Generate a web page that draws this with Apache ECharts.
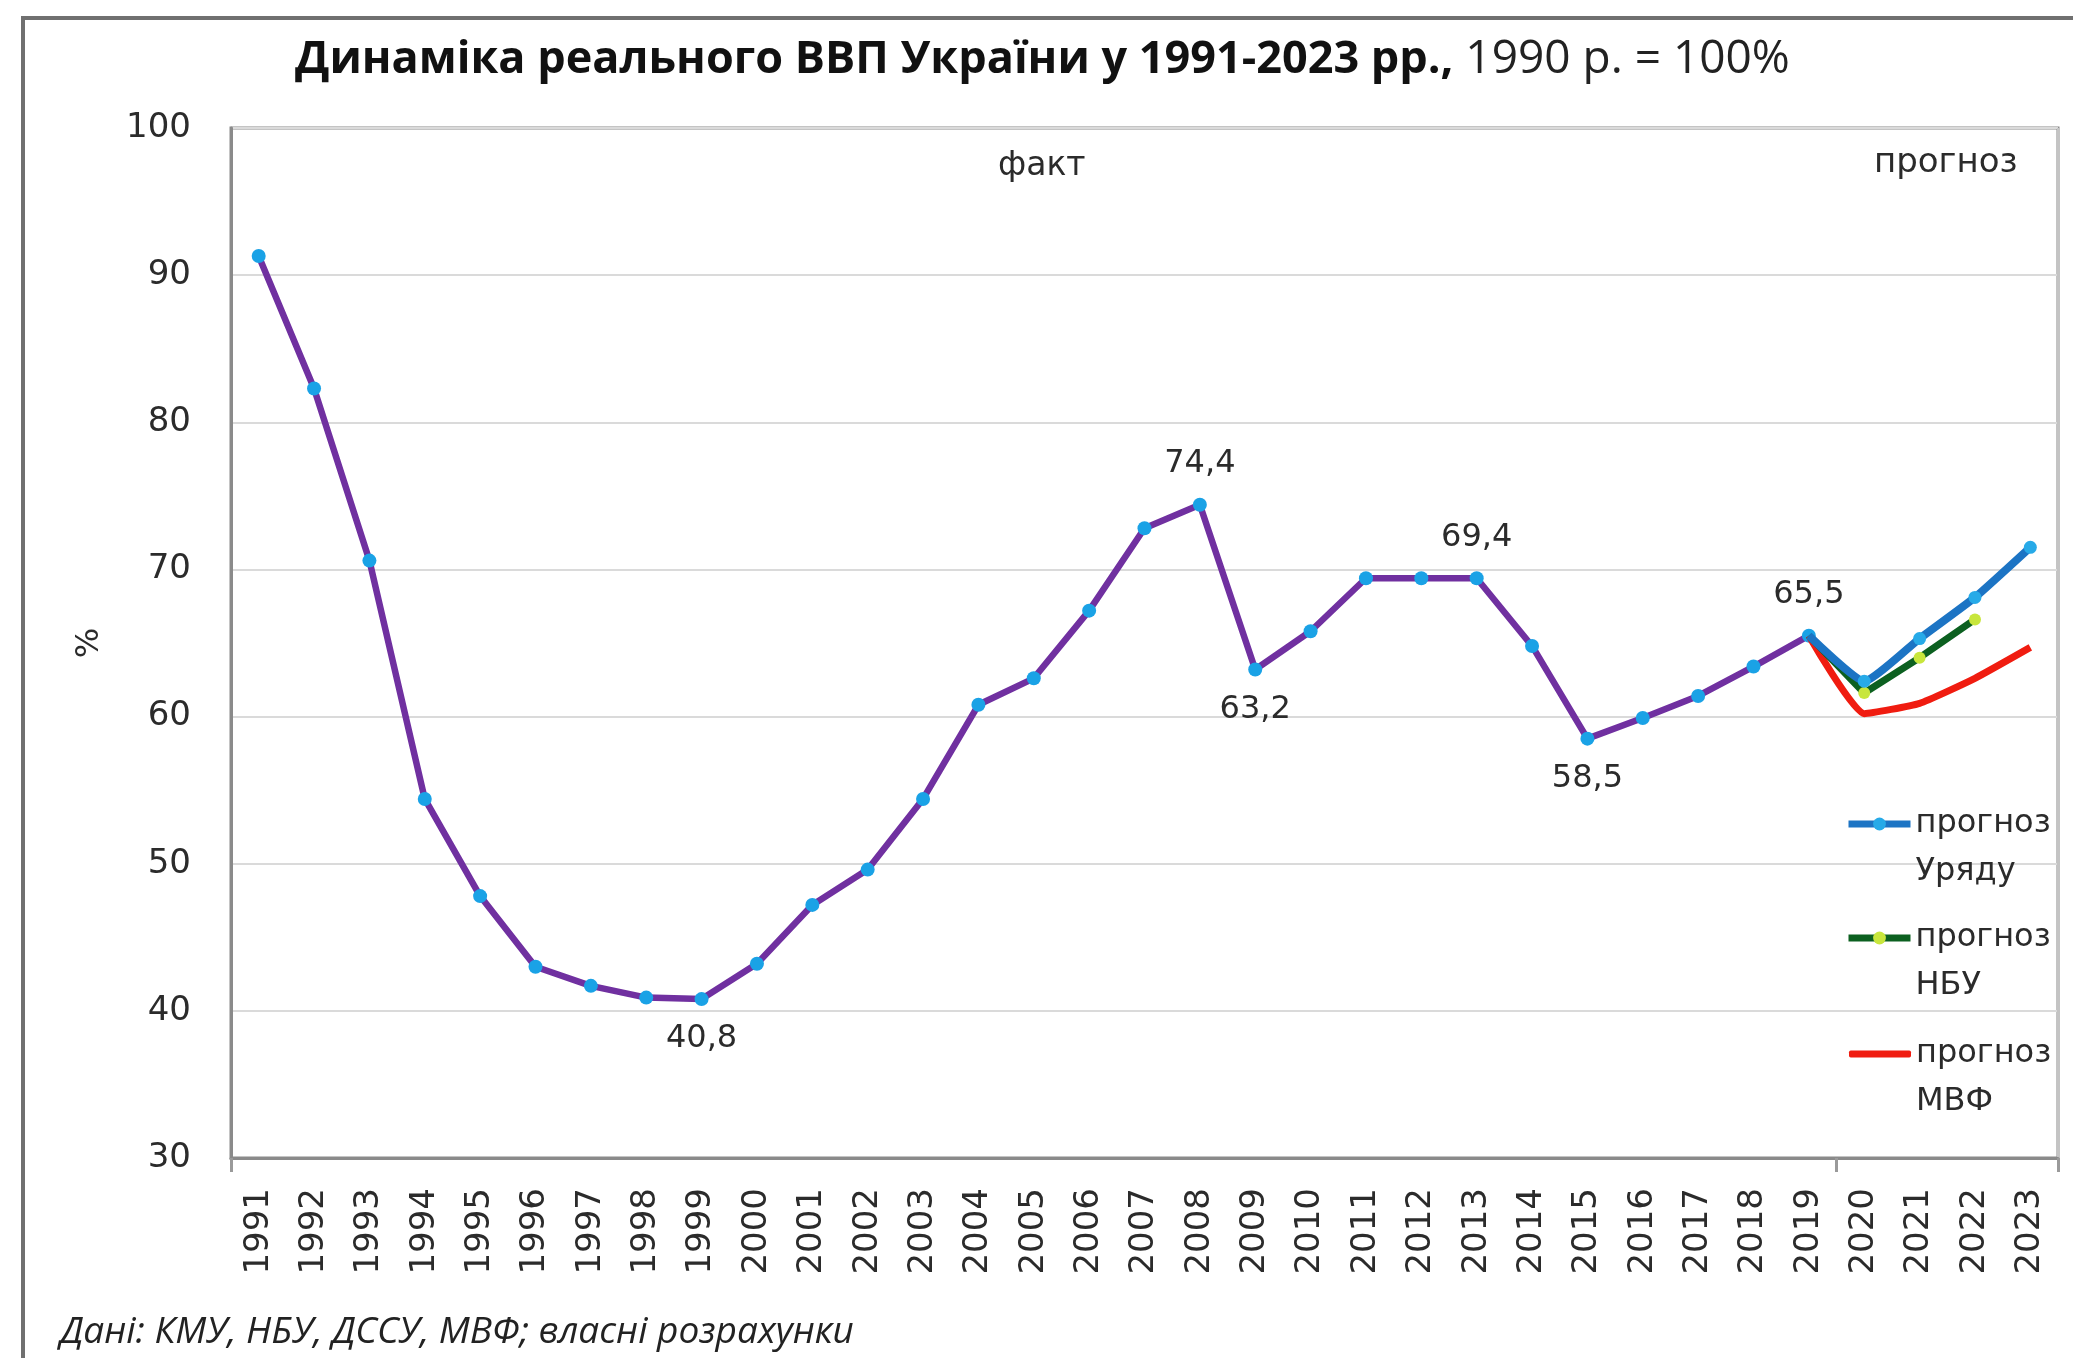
<!DOCTYPE html>
<html>
<head>
<meta charset="utf-8">
<script src="https://cdn.jsdelivr.net/npm/echarts@6/dist/echarts.min.js"></script>
<style>
  html, body { margin: 0; padding: 0; background: #fff; }
  #chart { width: 2073px; height: 1358px; }
</style>
</head>
<body>
<div id="chart"></div>
<script>
const years = ['1991', '1992', '1993', '1994', '1995', '1996', '1997', '1998', '1999', '2000',
  '2001', '2002', '2003', '2004', '2005', '2006', '2007', '2008', '2009', '2010',
  '2011', '2012', '2013', '2014', '2015', '2016', '2017', '2018', '2019', '2020',
  '2021', '2022', '2023']

// real GDP, 1990 = 100
const fact = [91.3, 82.3, 70.6, 54.4, 47.8, 43.0, 41.7, 40.9, 40.8, 43.2,
  47.2, 49.6, 54.4, 60.8, 62.6, 67.2, 72.8, 74.4, 63.2, 65.8,
  69.4, 69.4, 69.4, 64.8, 58.5, 59.9, 61.4, 63.4, 65.5, null,
  null, null, null]

const forecastYears = ['2019', '2020', '2021', '2022', '2023']
const govForecast = [65.5, 62.4, 65.3, 68.1, 71.5]
const nbuForecast = [65.5, 61.6, 64.0, 66.6, null]
const imfForecast = [65.5, 60.2, 60.9, 62.6, 64.7]

// which fact points carry a value label, and on which side
const labelledYears = { '1999': 'bottom', '2008': 'top', '2009': 'bottom', '2013': 'top', '2015': 'bottom', '2019': 'top' }

const yTicks = { min: 30, max: 100, step: 10 }

const TEXT = '#2b2b2b'
const FONT = 'DejaVu Sans'

const alignToYears = (values) => years.map(y => {
  const i = forecastYears.indexOf(y)
  return i < 0 ? null : values[i]
})

const fmt = v => String(v.toFixed(1)).replace('.', ',')

const factData = fact.map((v, i) => {
  const pos = labelledYears[years[i]]
  if (v === null || !pos) return v
  return {
    value: v,
    label: { show: true, position: pos, distance: pos === 'top' ? 18 : 17 }
  }
})

const forecastData = (values) => alignToYears(values).map((v, i) =>
  years[i] === '2019' ? { value: v, symbol: 'none' } : v)

const chart = echarts.init(document.getElementById('chart'))

// leading empty line keeps the first text line level with the icon
const legendBase = {
  left: 1845, orient: 'vertical', padding: 0, itemWidth: 62, itemHeight: 16,
  selectedMode: false,
  formatter: name => '\n' + name,
  lineStyle: { width: 7 },
  textStyle: { color: TEXT, fontFamily: FONT, fontSize: 32, lineHeight: 48 }
}

chart.setOption({
  backgroundColor: '#ffffff',
  animation: false,
  title: {
    left: 290,
    top: 32,
    text: '{b|Динаміка реального ВВП України у 1991-2023 рр.,}{n| 1990 р. = 100%}',
    textStyle: {
      rich: {
        b: { fontFamily: 'Open Sans', fontWeight: 'bold', fontSize: 45, color: '#111' },
        n: { fontFamily: 'Open Sans', fontWeight: 'normal', fontSize: 46, color: '#222' }
      }
    }
  },
  graphic: [
    {
      type: 'rect', silent: true,
      shape: { x: 23, y: 18, width: 2300, height: 1600 },
      style: { fill: 'none', stroke: '#707070', lineWidth: 4 }
    },
    {
      type: 'text', left: 998, top: 150,
      style: { text: 'факт', fill: TEXT, font: '33px "DejaVu Sans"' }
    },
    {
      type: 'text', left: 1874, top: 146,
      style: { text: 'прогноз', fill: TEXT, font: '34px "DejaVu Sans"' }
    },
    {
      type: 'text', left: 60, top: 1314,
      style: { text: 'Дані: КМУ, НБУ, ДССУ, МВФ; власні розрахунки', fill: '#222', font: 'italic 37px "Open Sans"' }
    }
  ],
  legend: [
    Object.assign({}, legendBase, { top: 752, data: ['прогноз\nУряду'] }),
    Object.assign({}, legendBase, { top: 866, data: ['прогноз\nНБУ'] }),
    Object.assign({}, legendBase, { top: 982, left: 1849, itemHeight: 7, data: [{ name: 'прогноз\nМВФ', icon: 'roundRect' }] })
  ],
  grid: {
    left: 231, right: 15, top: 128, bottom: 200,
    show: true, borderColor: '#8A8A8A', borderWidth: 3
  },
  xAxis: {
    type: 'category',
    data: years,
    boundaryGap: true,
    axisLine: { lineStyle: { color: '#8A8A8A', width: 3 } },
    axisTick: {
      show: true, length: 14,
      interval: (i) => i === 0 || i === 29,
      lineStyle: { color: '#9A9A9A', width: 3 }
    },
    splitLine: {
      show: true,
      interval: (i) => i === 29,
      lineStyle: { color: '#C4C4C4', width: 3 }
    },
    axisLabel: {
      rotate: 90, margin: 30, interval: 0,
      color: TEXT, fontFamily: FONT, fontSize: 34
    }
  },
  yAxis: {
    type: 'value',
    min: yTicks.min, max: yTicks.max, interval: yTicks.step,
    name: '%',
    nameLocation: 'middle',
    nameRotate: 90,
    nameGap: 125,
    nameTextStyle: { color: TEXT, fontFamily: FONT, fontSize: 32 },
    axisLine: { show: true, lineStyle: { color: '#8A8A8A', width: 3 } },
    axisTick: { show: false },
    splitLine: { lineStyle: { color: '#DADADA', width: 2 } },
    axisLabel: { margin: 40, color: TEXT, fontFamily: FONT, fontSize: 34 }
  },
  series: [
    {
      name: 'факт',
      type: 'line',
      data: factData,
      symbol: 'circle',
      symbolSize: 14,
      lineStyle: { color: '#7030A0', width: 6.5 },
      itemStyle: { color: '#1AA2E6' },
      label: {
        show: false, formatter: p => fmt(p.value),
        color: TEXT, fontFamily: FONT, fontSize: 32
      },
      z: 2
    },
    {
      name: 'прогноз\nМВФ',
      type: 'line',
      data: forecastData(imfForecast),
      showSymbol: false,
      symbol: 'none',
      smooth: 0.15,
      lineStyle: { color: '#F01C10', width: 7 },
      itemStyle: { color: '#F01C10' },
      z: 3
    },
    {
      name: 'прогноз\nНБУ',
      type: 'line',
      data: forecastData(nbuForecast),
      symbol: 'circle',
      symbolSize: 12,
      lineStyle: { color: '#0C6020', width: 7 },
      itemStyle: { color: '#C8E63C' },
      z: 4
    },
    {
      name: 'прогноз\nУряду',
      type: 'line',
      data: forecastData(govForecast),
      symbol: 'circle',
      symbolSize: 13,
      smooth: 0.15,
      lineStyle: { color: '#1C74C4', width: 8 },
      itemStyle: { color: '#27AAE8' },
      z: 5
    }
  ]
})
</script>
</body>
</html>
